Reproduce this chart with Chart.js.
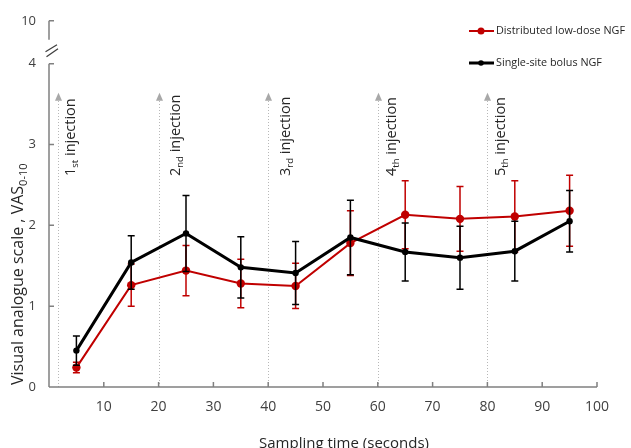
<!DOCTYPE html>
<html>
<head>
<meta charset="utf-8">
<script src="https://cdn.jsdelivr.net/npm/chart.js"></script>
<style>
    html, body { margin: 0; padding: 0; background: #fff; }
    #wrap { width: 631px; height: 448px; }
</style>
</head>
<body>
<div id="wrap"><canvas id="vasChart" width="631" height="448"></canvas></div>
<script>
// 측정 시점 (초)
const timePoints = [5, 15, 25, 35, 45, 55, 65, 75, 85, 95];

// Distributed low-dose NGF (평균, 오차)
const lowDoseMean = [0.24, 1.26, 1.44, 1.28, 1.25, 1.78, 2.13, 2.08, 2.11, 2.18];
const lowDoseErr  = [0.065, 0.26, 0.31, 0.30, 0.28, 0.40, 0.42, 0.40, 0.44, 0.44];

// Single-site bolus NGF (평균, 오차)
const bolusMean = [0.45, 1.54, 1.90, 1.48, 1.41, 1.85, 1.67, 1.60, 1.68, 2.05];
const bolusErr  = [0.18, 0.33, 0.47, 0.38, 0.39, 0.46, 0.36, 0.39, 0.37, 0.38];

// 축 눈금
const xTicks = [10, 20, 30, 40, 50, 60, 70, 80, 90, 100];
const yTicks = [0, 1, 2, 3, 4];
const yBreakTop = 4.53;     // 끊긴 축 위쪽 끝 (라벨 "10")
const yBreakLabel = '10';

// 주사 시점
const injectionTimes = [1.6, 20, 40, 60, 80];
const injectionNum = ['1', '2', '3', '4', '5'];
const injectionSuffix = ['st', 'nd', 'rd', 'th', 'th'];

const RED = '#C00000';
const FONT = "'Open Sans', 'DejaVu Sans', sans-serif";

function setFont(ctx, size) {
    ctx.font = size + 'px ' + FONT;
}

// 세로로 회전된 텍스트 (아래첨자 포함)
function drawRotated(ctx, px, py, parts) {
    ctx.save();
    ctx.translate(px, py);
    ctx.rotate(-Math.PI / 2);
    ctx.textAlign = 'left';
    ctx.textBaseline = 'alphabetic';
    let cx = 0;
    parts.forEach(function(p) {
        setFont(ctx, p.size);
        ctx.fillText(p.text, cx, p.dy || 0);
        cx += ctx.measureText(p.text).width;
    });
    ctx.restore();
}

const decorPlugin = {
    id: 'decor',
    beforeDatasetsDraw(chart) {
        const ctx = chart.ctx;
        const x = chart.scales.x;
        const y = chart.scales.y;
        const bottom = y.getPixelForValue(0);
        const left = x.getPixelForValue(0);
        ctx.save();

        // 주사 화살표 (점선)
        const tipY = y.getPixelForValue(3.64);
        const labelOffset = [16, 20, 21, 17, 17];
        injectionTimes.forEach(function(t, i) {
            const px = Math.round(x.getPixelForValue(t)) + 0.5;
            ctx.strokeStyle = '#b8b8b8';
            ctx.lineWidth = 1;
            ctx.setLineDash([1, 2]);
            ctx.beginPath();
            ctx.moveTo(px, bottom);
            ctx.lineTo(px, tipY + 7);
            ctx.stroke();
            ctx.setLineDash([]);
            ctx.fillStyle = '#a8a8a8';
            ctx.beginPath();
            ctx.moveTo(px, tipY);
            ctx.lineTo(px - 3.5, tipY + 8);
            ctx.lineTo(px + 3.5, tipY + 8);
            ctx.closePath();
            ctx.fill();

            ctx.fillStyle = '#262626';
            drawRotated(ctx, px + labelOffset[i], 176, [
                { text: injectionNum[i], size: 14.5 },
                { text: injectionSuffix[i], size: 9.5, dy: 3 },
                { text: ' injection', size: 14.5 }
            ]);
        });

        // 축 선
        ctx.strokeStyle = '#808080';
        ctx.lineWidth = 1.5;
        const y4 = y.getPixelForValue(4);
        const yTop = y.getPixelForValue(yBreakTop);
        ctx.beginPath();
        ctx.moveTo(left, bottom);
        ctx.lineTo(x.getPixelForValue(100), bottom);
        ctx.moveTo(left, bottom);
        ctx.lineTo(left, y4);
        ctx.moveTo(left, yTop + 19);
        ctx.lineTo(left, yTop);
        ctx.stroke();

        // 안쪽 눈금
        ctx.beginPath();
        xTicks.forEach(function(v) {
            const px = x.getPixelForValue(v);
            ctx.moveTo(px, bottom);
            ctx.lineTo(px, bottom - 5);
        });
        yTicks.concat([yBreakTop]).forEach(function(v) {
            if (v === 0) return;
            const py = y.getPixelForValue(v);
            ctx.moveTo(left, py);
            ctx.lineTo(left + 5, py);
        });
        ctx.stroke();

        // 축 끊김 표시
        ctx.strokeStyle = '#404040';
        ctx.lineWidth = 1.3;
        ctx.beginPath();
        ctx.moveTo(left - 3.5, yTop + 31);
        ctx.lineTo(left + 8, yTop + 24);
        ctx.moveTo(left - 2.5, yTop + 36);
        ctx.lineTo(left + 9, yTop + 28);
        ctx.stroke();

        // 축 제목
        ctx.fillStyle = '#262626';
        drawRotated(ctx, 23, 385, [
            { text: 'Visual analogue scale , VAS', size: 16 },
            { text: '0-10', size: 11, dy: 3.5 }
        ]);
        setFont(ctx, 15);
        ctx.textAlign = 'center';
        ctx.textBaseline = 'alphabetic';
        ctx.fillText('Sampling time (seconds)', 344, 448);
        ctx.restore();
    },
    beforeDatasetDraw(chart, args) {
        // 오차 막대
        const ctx = chart.ctx;
        const x = chart.scales.x;
        const y = chart.scales.y;
        const ds = chart.data.datasets[args.index];
        const errs = ds.errors;
        ctx.save();
        ctx.strokeStyle = ds.borderColor;
        ctx.lineWidth = 1.5;
        ds.data.forEach(function(p, j) {
            const px = x.getPixelForValue(p.x);
            const top = y.getPixelForValue(p.y + errs[j]);
            const bot = y.getPixelForValue(p.y - errs[j]);
            ctx.beginPath();
            ctx.moveTo(px, top);
            ctx.lineTo(px, bot);
            ctx.moveTo(px - 3.5, top);
            ctx.lineTo(px + 3.5, top);
            ctx.moveTo(px - 3.5, bot);
            ctx.lineTo(px + 3.5, bot);
            ctx.stroke();
        });
        ctx.restore();
    },
    afterDraw(chart) {
        // 범례
        const ctx = chart.ctx;
        const items = [
            { label: 'Distributed low-dose NGF', color: RED, width: 2, r: 3.5, y: 31 },
            { label: 'Single-site bolus NGF', color: '#000', width: 3, r: 2.8, y: 63 }
        ];
        ctx.save();
        items.forEach(function(it) {
            ctx.strokeStyle = it.color;
            ctx.lineWidth = it.width;
            ctx.beginPath();
            ctx.moveTo(469, it.y);
            ctx.lineTo(494, it.y);
            ctx.stroke();
            ctx.fillStyle = it.color;
            ctx.beginPath();
            ctx.arc(481, it.y, it.r, 0, Math.PI * 2);
            ctx.fill();
            ctx.fillStyle = '#262626';
            setFont(ctx, 10.8);
            ctx.textAlign = 'left';
            ctx.textBaseline = 'middle';
            ctx.fillText(it.label, 496, it.y);
        });
        ctx.restore();
    }
};

const ctx = document.getElementById('vasChart').getContext('2d');
const vasChart = new Chart(ctx, {
    type: 'line',
    data: {
        datasets: [{
            label: 'Single-site bolus NGF',
            data: timePoints.map((t, i) => ({ x: t, y: bolusMean[i] })),
            errors: bolusErr,
            borderColor: '#000',
            backgroundColor: '#000',
            borderWidth: 3,
            pointRadius: 3.2,
            pointBorderWidth: 0,
            tension: 0,
            order: 0
        }, {
            label: 'Distributed low-dose NGF',
            data: timePoints.map((t, i) => ({ x: t, y: lowDoseMean[i] })),
            errors: lowDoseErr,
            borderColor: RED,
            backgroundColor: RED,
            borderWidth: 2,
            pointRadius: 4.2,
            pointBorderWidth: 0,
            tension: 0,
            order: 1
        }]
    },
    options: {
        responsive: false,
        animation: false,
        devicePixelRatio: 1,
        layout: { padding: { top: 18, right: 34, left: 0, bottom: 0 } },
        plugins: {
            legend: { display: false },
            tooltip: { enabled: false }
        },
        scales: {
            x: {
                type: 'linear',
                min: 0,
                max: 100,
                afterBuildTicks: function(s) { s.ticks = xTicks.map(v => ({ value: v })); },
                afterFit: function(s) { s.height = 61; },
                grid: { display: false, drawTicks: false },
                border: { display: false },
                ticks: {
                    autoSkip: false,
                    maxRotation: 0,
                    padding: 12,
                    color: '#404040',
                    font: { family: FONT, size: 14 }
                }
            },
            y: {
                type: 'linear',
                min: 0,
                max: yBreakTop,
                afterBuildTicks: function(s) { s.ticks = yTicks.concat([yBreakTop]).map(v => ({ value: v })); },
                afterFit: function(s) { s.width = 49; },
                grid: { display: false, drawTicks: false },
                border: { display: false },
                ticks: {
                    padding: 13,
                    color: '#404040',
                    font: { family: FONT, size: 13 },
                    callback: function(v) { return v === yBreakTop ? yBreakLabel : v; }
                }
            }
        }
    },
    plugins: [decorPlugin]
});
</script>
</body>
</html>
